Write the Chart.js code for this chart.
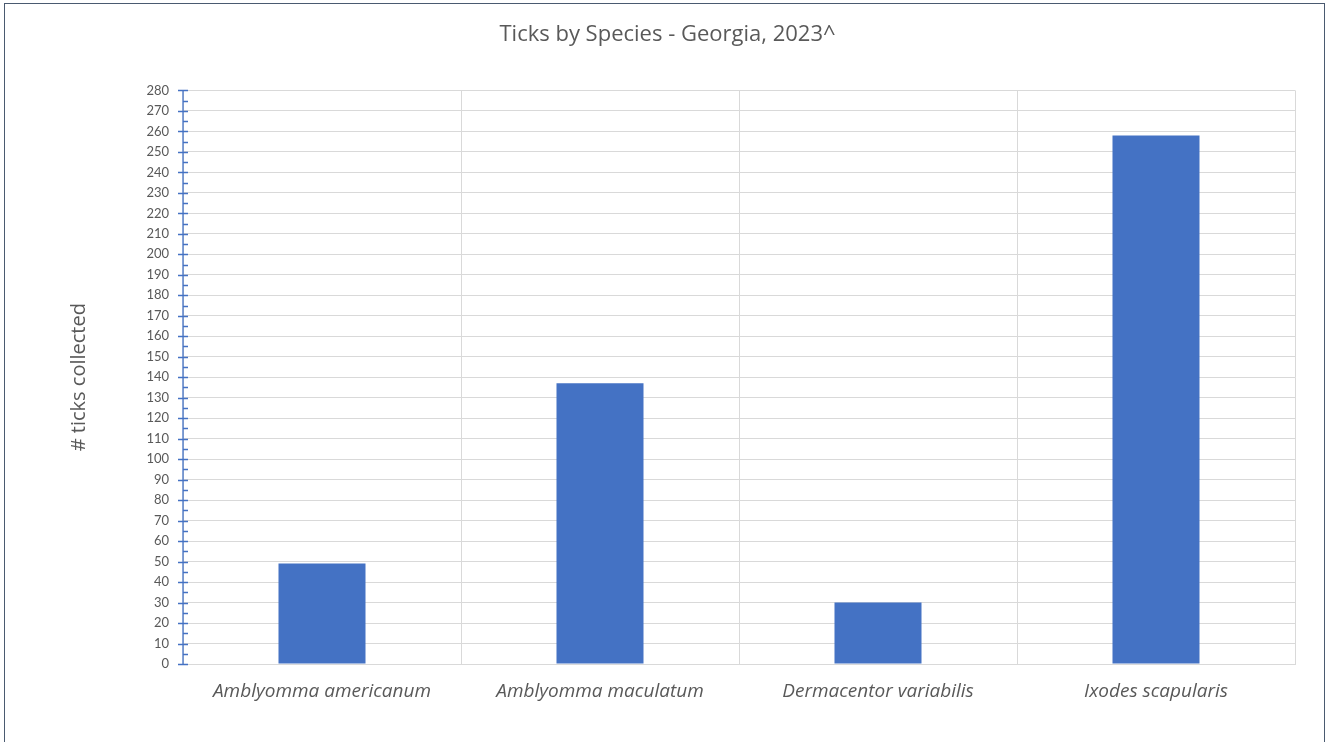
<!DOCTYPE html>
<html>
<head>
<meta charset="utf-8">
<script src="https://cdn.jsdelivr.net/npm/chart.js@4"></script>
<style>
  html, body { margin: 0; padding: 0; background: #fff; }
  #wrap { position: relative; width: 1328px; height: 742px; overflow: hidden; }
  #frame { position: absolute; left: 4px; top: 3px; width: 1321px; height: 760px;
           border: 1.5px solid #4a5a70; box-sizing: border-box; pointer-events: none; }
</style>
</head>
<body>
<div id="wrap">
  <canvas id="chart" width="1328" height="742"></canvas>
  <div id="frame"></div>
</div>
<script>
// data
const species   = ['Amblyomma americanum', 'Amblyomma maculatum', 'Dermacentor variabilis', 'Ixodes scapularis'];
const collected = [49, 137, 30, 258];
const yMax      = 280;
const yStep     = 10;

const BLUE = '#4472c4';
const GRID = '#d9d9d9';
const TEXT = '#595959';

// blue y axis with major + minor tick marks (Excel style)
const yAxisTicks = {
  id: 'yAxisTicks',
  afterDraw(chart) {
    const { ctx, chartArea } = chart;
    const y = chart.scales.y;
    const x0 = chartArea.left;
    ctx.save();
    ctx.strokeStyle = BLUE;
    ctx.lineWidth = 1.3;
    ctx.beginPath();
    ctx.moveTo(x0, chartArea.top);
    ctx.lineTo(x0, chartArea.bottom);
    for (let v = 0; v <= yMax; v += yStep / 2) {
      const py = Math.round(y.getPixelForValue(v)) + 0.5;
      const major = v % yStep === 0;
      ctx.moveTo(major ? x0 - 5 : x0, py);
      ctx.lineTo(x0 + 5, py);
    }
    ctx.stroke();
    ctx.restore();
  }
};

new Chart(document.getElementById('chart').getContext('2d'), {
  type: 'bar',
  data: {
    labels: species,
    datasets: [{
      label: '# ticks collected',
      data: collected,
      backgroundColor: BLUE,
      borderWidth: 0,
      categoryPercentage: 1,
      barPercentage: 0.313,
    }],
  },
  options: {
    responsive: false,
    animation: false,
    layout: { padding: { left: 40, right: 33, top: 0, bottom: 0 } },
    plugins: {
      legend: { display: false },
      tooltip: { enabled: false },
      title: {
        display: true,
        text: 'Ticks by Species - Georgia, 2023^',
        color: TEXT,
        font: { family: 'Open Sans', size: 22, weight: 'normal' },
        padding: { top: 22, bottom: 42 },
      },
    },
    scales: {
      x: {
        grid: { color: GRID, drawTicks: false, offset: true },
        border: { color: GRID },
        ticks: {
          color: TEXT,
          padding: 16,
          font: { family: 'Open Sans', size: 19, style: 'italic' },
        },
        afterFit: s => { s.height = 78; },
      },
      y: {
        min: 0,
        max: yMax,
        grid: { color: GRID, drawTicks: false },
        border: { display: false },
        ticks: {
          stepSize: yStep,
          color: TEXT,
          padding: 14,
          font: { family: 'Lato', size: 13 },
        },
        title: {
          display: true,
          text: '# ticks collected',
          color: TEXT,
          padding: 27,
          font: { family: 'Open Sans', size: 20 },
        },
        afterFit: s => { s.width = 143; },
      },
    },
  },
  plugins: [yAxisTicks],
});
</script>
</body>
</html>
